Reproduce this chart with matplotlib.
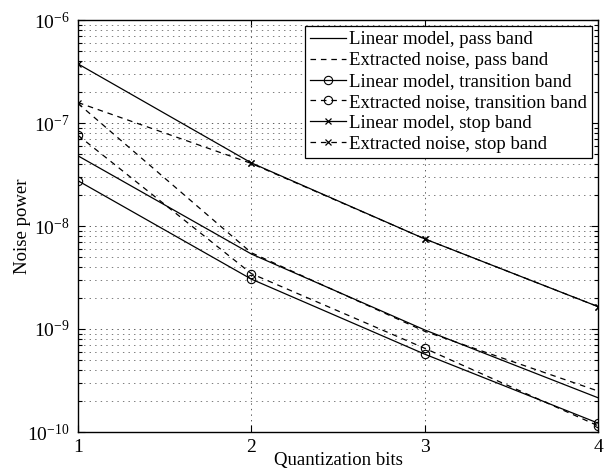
import matplotlib
matplotlib.use("Agg")
import matplotlib.pyplot as plt
from matplotlib.ticker import LogLocator, NullFormatter, FixedLocator

plt.rcParams['font.family'] = ['Liberation Serif', 'DejaVu Serif']
plt.rcParams['mathtext.fontset'] = 'custom'
plt.rcParams['mathtext.rm'] = 'Liberation Serif'
plt.rcParams['mathtext.it'] = 'Liberation Serif:italic'
plt.rcParams['lines.scale_dashes'] = False

bits = [1, 2, 3, 4]
lin_pass = [4.8e-8, 5.35e-9, 9.8e-10, 2.15e-10]
ext_pass = [1.55e-7, 5.5e-9, 9.5e-10, 2.5e-10]
lin_trans = [2.75e-8, 3.05e-9, 5.7e-10, 1.22e-10]
ext_trans = [7.6e-8, 3.45e-9, 6.5e-10, 1.15e-10]
lin_stop = [3.75e-7, 4.1e-8, 7.5e-9, 1.65e-9]
ext_stop = [1.58e-7, 4.05e-8, 7.5e-9, 1.65e-9]

labels = ["Linear model, pass band", "Extracted noise, pass band",
          "Linear model, transition band", "Extracted noise, transition band",
          "Linear model, stop band", "Extracted noise, stop band"]

fig = plt.figure(figsize=(6.08, 4.72), dpi=100)
ax = fig.add_axes([78/608, 1-432/472, (598-78)/608, (432-20)/472])

lw = 0.9
dash = (4.0, 3.5)
ax.plot(bits, lin_pass, color='k', lw=lw, label=labels[0])
ax.plot(bits, ext_pass, color='k', lw=lw, dashes=dash, label=labels[1])
ax.plot(bits, lin_trans, color='k', lw=lw, marker='o', ms=6, mfc='none', mew=0.8, label=labels[2])
ax.plot(bits, ext_trans, color='k', lw=lw, dashes=dash, marker='o', ms=6, mfc='none', mew=0.8, label=labels[3])
ax.plot(bits, lin_stop, color='k', lw=lw, marker='x', ms=4.5, mew=0.9, label=labels[4])
ax.plot(bits, ext_stop, color='k', lw=lw, dashes=dash, marker='x', ms=4.5, mew=0.9, label=labels[5])

ax.set_yscale('log')
ax.set_xlim(1, 4)
ax.set_ylim(1e-10, 1e-6)
ax.xaxis.set_major_locator(FixedLocator(bits))
ax.set_xticklabels([str(b) for b in bits])
ax.yaxis.set_major_locator(LogLocator(base=10, numticks=10))
ax.yaxis.set_minor_locator(LogLocator(base=10, subs=range(2, 10), numticks=50))
ax.yaxis.set_minor_formatter(NullFormatter())

ax.grid(True, which='major', axis='both', color='0.25', lw=0.6, linestyle=(0, (1, 3)))
ax.grid(True, which='minor', axis='y', color='0.4', lw=0.6, linestyle=(0, (1, 3)))

ax.tick_params(which='both', direction='in', top=True, right=True, width=0.8)
ax.tick_params(axis='y', which='major', labelsize=14, length=5, pad=6)
ax.tick_params(axis='x', which='major', labelsize=14, length=5, pad=5)
ax.tick_params(which='minor', length=3)
for s in ax.spines.values():
    s.set_linewidth(1.0)

ax.set_xlabel("Quantization bits", fontsize=13.5, labelpad=-3)
ax.set_ylabel("Noise power", fontsize=13.5, labelpad=-3)

leg = ax.legend(loc='upper right', fontsize=13.5, frameon=True, fancybox=False,
                edgecolor='k', framealpha=1, borderaxespad=0.3, handlelength=1.9,
                handletextpad=0.15, labelspacing=0.2, borderpad=0.3)
leg.get_frame().set_linewidth(0.9)

fig.savefig("out.png", dpi=100)
